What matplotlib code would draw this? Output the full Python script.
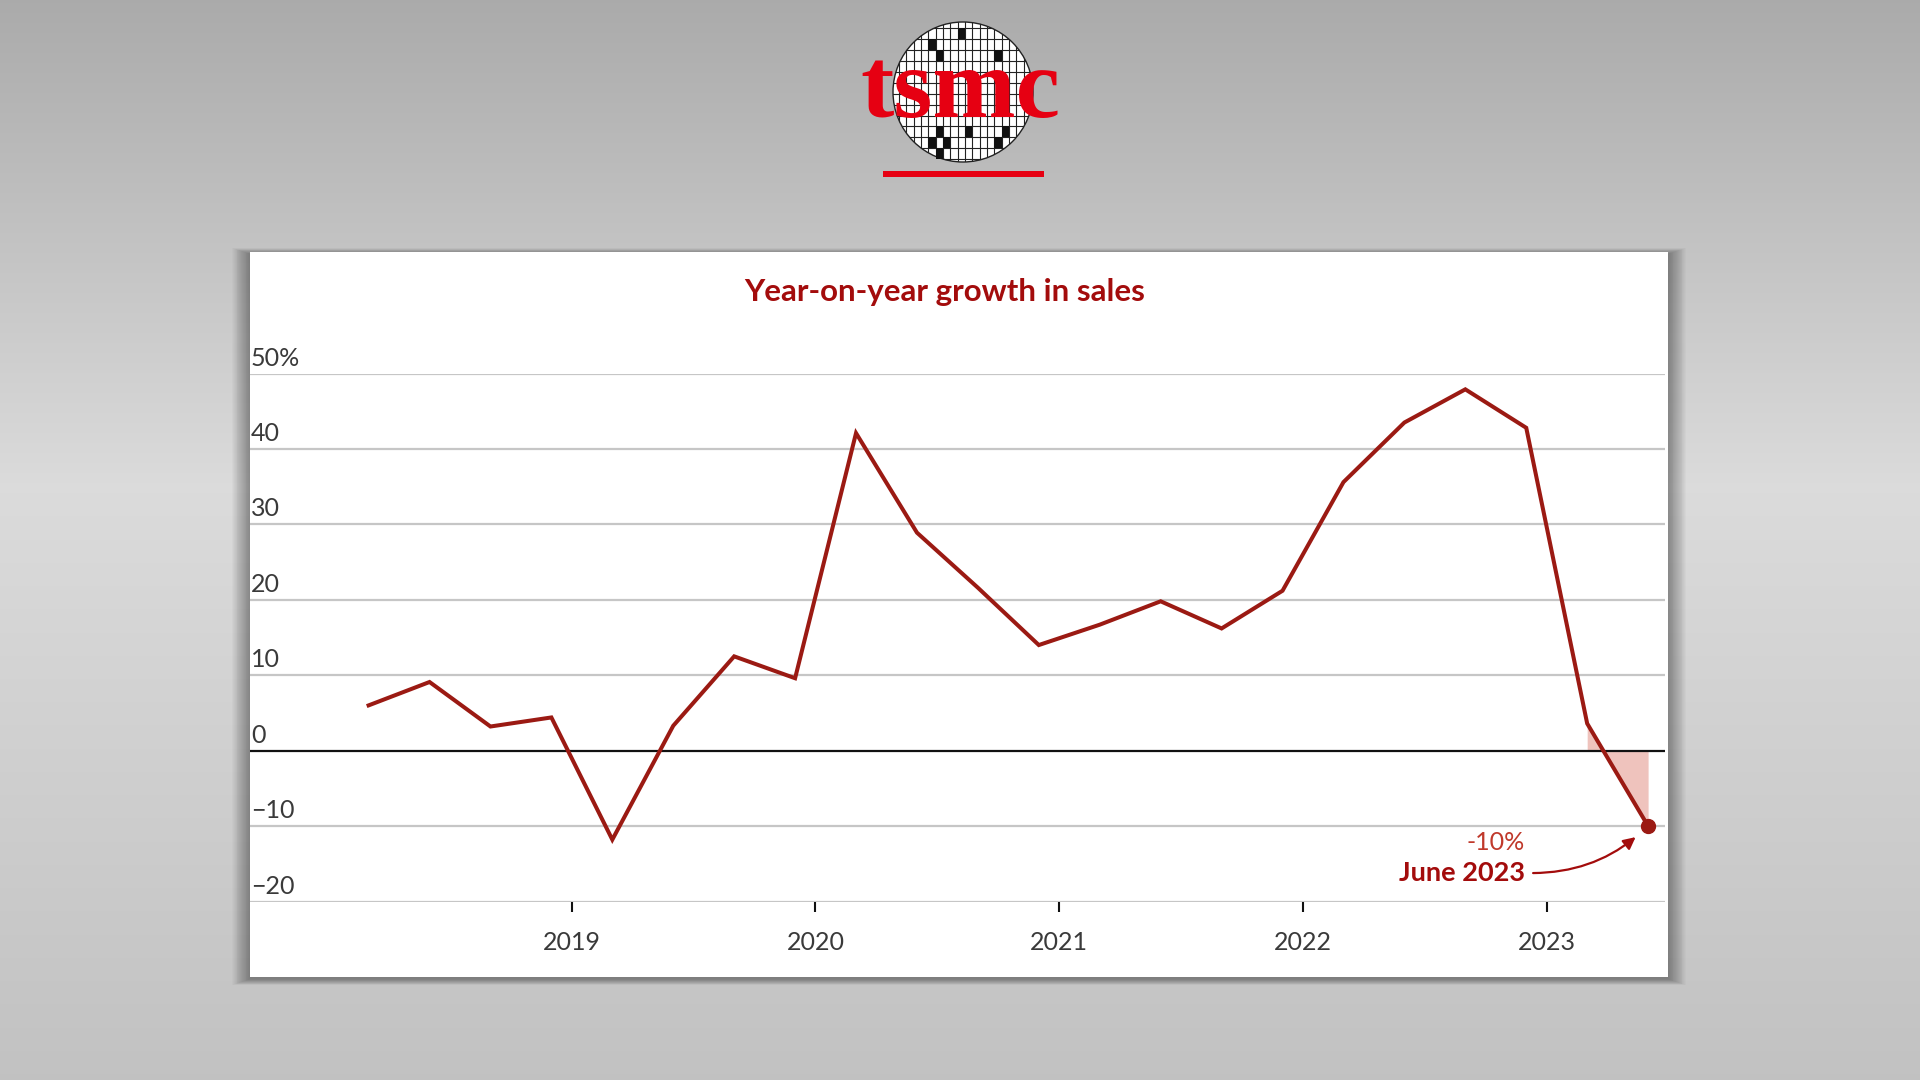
import numpy as np
import matplotlib
matplotlib.use("Agg")
import matplotlib.pyplot as plt
from matplotlib.patches import Rectangle, Circle
from matplotlib.transforms import offset_copy

plt.rcParams["font.family"] = ["Lato", "DejaVu Sans"]

# ---------------------------------------------------------------------------
# Data: TSMC year-on-year sales growth, quarterly (%)
# ---------------------------------------------------------------------------
QUARTERS = [
    "2018-03", "2018-06", "2018-09", "2018-12",
    "2019-03", "2019-06", "2019-09", "2019-12",
    "2020-03", "2020-06", "2020-09", "2020-12",
    "2021-03", "2021-06", "2021-09", "2021-12",
    "2022-03", "2022-06", "2022-09", "2022-12",
    "2023-03", "2023-06",
]
GROWTH = [
    6.0, 9.1, 3.2, 4.4,
    -11.8, 3.3, 12.5, 9.6,
    42.1, 28.9, 21.6, 14.0,
    16.7, 19.8, 16.2, 21.2,
    35.6, 43.5, 47.9, 42.8,
    3.6, -10.0,
]
Y_TICKS = [50, 40, 30, 20, 10, 0, -10, -20]
Y_LABELS = ["50%", "40", "30", "20", "10", "0", "\u221210", "\u221220"]
X_YEARS = [2019, 2020, 2021, 2022, 2023]

TITLE = "Year-on-year growth in sales"
LAST_VALUE_TEXT = "-10%"
LAST_DATE_TEXT = "June 2023"

LINE_RED = "#9b1a13"
TITLE_RED = "#a30c0c"
LOGO_RED = "#e60012"
LABEL_GREY = "#3a3a3a"

W, H = 1920, 1080


def to_year(s):
    y, m = s.split("-")
    return int(y) + (int(m) - 1) / 12


x = np.array([to_year(q) for q in QUARTERS])
y = np.array(GROWTH)

fig = plt.figure(figsize=(W / 100, H / 100), dpi=100)

# ---------------------------------------------------------------------------
# Background gradient + white panel with soft shadow
# ---------------------------------------------------------------------------
bg = fig.add_axes([0, 0, 1, 1])
bg.set_xlim(0, W)
bg.set_ylim(H, 0)
bg.axis("off")
rows = np.linspace(0, 1, 400)
shade = np.interp(rows, [0.0, 0.45, 1.0], [0.67, 0.86, 0.76])
grad = np.repeat(shade[:, None], 2, axis=1)
bg.imshow(np.dstack([grad, grad, grad]), extent=[0, W, H, 0], aspect="auto",
          interpolation="bilinear", zorder=0)

px0, py0, px1, py1 = 250, 252, 1668, 977
for i in range(20, 0, -1):
    bg.add_patch(Rectangle((px0 - i * 0.9, py0 - i * 0.3 + 2),
                           (px1 - px0) + i * 1.8, (py1 - py0) + i * 0.6,
                           facecolor="black", edgecolor="none",
                           alpha=0.018, zorder=1))
bg.add_patch(Rectangle((px0, py0), px1 - px0, py1 - py0,
                       facecolor="white", edgecolor="none", zorder=2))

# ---------------------------------------------------------------------------
# Logo (wafer + "tsmc")
# ---------------------------------------------------------------------------
cx, cy, r = 963, 92, 70
wafer = Circle((cx, cy), r, facecolor="white", edgecolor="#222222",
               lw=1.0, zorder=3)
bg.add_patch(wafer)
col0, cw = 928.3, 7.33
row0, rh = 28.3, 10.9
for k in range(-6, 16):
    gx = col0 + k * cw
    ln = bg.plot([gx, gx], [cy - r, cy + r], color="#222222", lw=0.8, zorder=4)[0]
    ln.set_clip_path(wafer)
for k in range(-3, 14):
    gy = row0 + k * rh
    ln = bg.plot([cx - r, cx + r], [gy, gy], color="#222222", lw=0.8, zorder=4)[0]
    ln.set_clip_path(wafer)
black_cells = [(4, 0), (0, 1), (1, 2), (9, 2), (1, 9), (5, 9), (10, 9),
               (0, 10), (2, 10), (9, 10), (1, 11)]
for c, rr in black_cells:
    bg.add_patch(Rectangle((col0 + c * cw, row0 + rr * rh), cw, rh,
                           facecolor="#111111", edgecolor="none", zorder=5))
bg.text(960, 117, "tsmc", family=["Liberation Serif", "DejaVu Serif"],
        fontweight="bold", fontsize=72, color=LOGO_RED,
        ha="center", va="baseline", zorder=6)
bg.add_patch(Rectangle((883, 171), 161, 6, facecolor=LOGO_RED,
                       edgecolor="none", zorder=6))

# ---------------------------------------------------------------------------
# Chart
# ---------------------------------------------------------------------------
y_bot, y_top = 901.5, 373.5
ax = fig.add_axes([px0 / W, 1 - y_bot / H, (1665 - px0) / W, (y_bot - y_top) / H])
ax.set_facecolor("none")
ax.set_xlim(2017.68, 2023.486)
ax.set_ylim(-20, 50)
for s in ax.spines.values():
    s.set_visible(False)

for t in Y_TICKS:
    if t == 0:
        ax.axhline(0, color="#111111", lw=1.6, zorder=3)
    else:
        ax.axhline(t, color="#c6c6c6", lw=1.6, zorder=1)

trans = offset_copy(ax.get_yaxis_transform(), fig=fig, x=1, y=8, units="dots")
for t, lab in zip(Y_TICKS, Y_LABELS):
    ax.text(0, t, lab, transform=trans, ha="left", va="baseline",
            fontsize=18, color=LABEL_GREY)

ax.set_yticks([])
ax.set_xticks(X_YEARS)
ax.set_xticklabels([str(v) for v in X_YEARS], fontsize=18, color=LABEL_GREY)
ax.tick_params(axis="x", length=7, width=1.5, color="#111111", pad=14)

ax.fill_between(x[-2:], y[-2:], 0, color="#efc3bd", lw=0, zorder=2)
ax.plot(x, y, color=LINE_RED, lw=2.9, zorder=4, solid_joinstyle="miter")
ax.plot(x[-1], y[-1], "o", color=LINE_RED, ms=10, zorder=5)

bg.text(945, 292, TITLE, fontsize=22.5, fontweight="bold", color=TITLE_RED,
        ha="center", va="center", zorder=6)

lab_trans = offset_copy(ax.transData, fig=fig, x=-123, y=-16, units="dots")
ax.text(x[-1], y[-1], LAST_VALUE_TEXT, transform=lab_trans, ha="right",
        va="center", fontsize=18, color="#c0392b")
lab_trans2 = offset_copy(ax.transData, fig=fig, x=-123, y=-47, units="dots")
ax.text(x[-1], y[-1], LAST_DATE_TEXT, transform=lab_trans2, ha="right",
        va="center", fontsize=19.5, fontweight="bold", color=TITLE_RED)
ax.annotate("", xy=(x[-1], y[-1]), xytext=(-115, -47),
            textcoords="offset pixels",
            arrowprops=dict(arrowstyle="-|>", color=TITLE_RED, lw=1.6,
                            mutation_scale=18, shrinkA=0, shrinkB=12,
                            connectionstyle="arc3,rad=0.2"))

fig.savefig("out.png", dpi=100)
